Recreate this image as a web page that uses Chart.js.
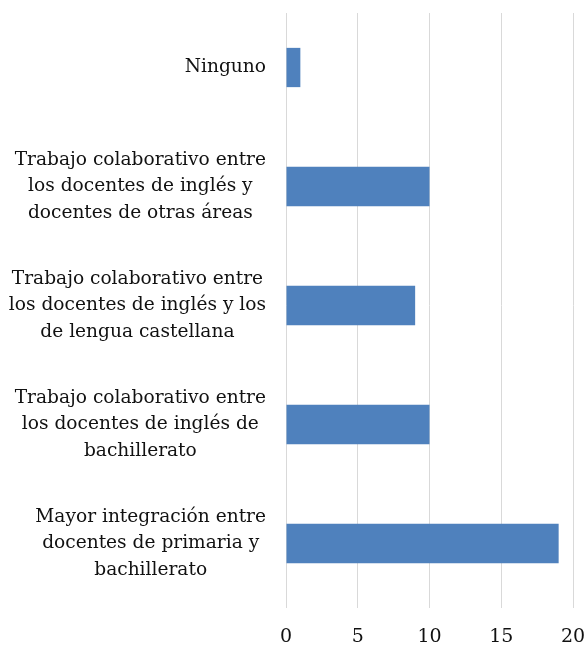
<!DOCTYPE html>
<html lang="es">
<head>
<meta charset="utf-8"/>
<title>Trabajo colaborativo</title>
<style>
  body { margin: 0; background: #fff; }
  #wrap { width: 587px; height: 647px; }
</style>
</head>
<body>
<div id="wrap"><canvas id="chart" width="587" height="647"></canvas></div>
<script src="https://cdn.jsdelivr.net/npm/chart.js"></script>
<script>
const categories = [
  ["Ninguno"],
  ["Trabajo colaborativo entre", "los docentes de inglés y", "docentes de otras áreas"],
  ["Trabajo colaborativo entre", "los docentes de inglés y los", "de lengua castellana"],
  ["Trabajo colaborativo entre", "los docentes de inglés de", "bachillerato"],
  ["Mayor integración entre", "docentes de primaria y", "bachillerato"]
];
const values = [1, 10, 9, 10, 19];
const xTicks = [0, 5, 10, 15, 20];

const FONT = "'DejaVu Serif', serif";
const GRID_TOP = 13;

// gridlines start a little below the top of the plot, like in the original
const gridTop = {
  id: 'gridTop',
  beforeDatasetsDraw(chart) {
    const a = chart.chartArea;
    const ctx = chart.ctx;
    ctx.save();
    ctx.fillStyle = '#fff';
    ctx.fillRect(a.left - 2, 0, a.right - a.left + 4, GRID_TOP);
    ctx.restore();
  }
};

// draw the category labels as centered blocks, right aligned to the axis
const centeredLabels = {
  id: 'centeredLabels',
  afterDraw(chart) {
    const ctx = chart.ctx;
    const y = chart.scales.y;
    ctx.save();
    ctx.font = "18.6px " + FONT;
    ctx.fillStyle = '#111';
    ctx.textAlign = 'center';
    ctx.textBaseline = 'middle';
    const right = y.right - 20;
    const lh = 26.5;
    categories.forEach((lines, i) => {
      const cy = y.getPixelForTick(i);
      const w = Math.max(...lines.map(l => ctx.measureText(l).width));
      const cx = right - w / 2;
      const top = cy - (lines.length - 1) * lh / 2;
      lines.forEach((l, k) => ctx.fillText(l, cx, top + k * lh));
    });
    ctx.restore();
  }
};

new Chart(document.getElementById('chart'), {
  type: 'bar',
  data: {
    labels: categories,
    datasets: [{
      data: values,
      backgroundColor: '#4f81bd',
      barPercentage: 0.33,
      categoryPercentage: 1
    }]
  },
  options: {
    indexAxis: 'y',
    responsive: false,
    animation: false,
    layout: { padding: { top: 8, right: 0, left: 0, bottom: 0 } },
    plugins: { legend: { display: false }, tooltip: { enabled: false } },
    scales: {
      x: {
        min: 0, max: 20,
        afterBuildTicks(s) { s.ticks = xTicks.map(v => ({ value: v })); },
        afterFit(s) { s.height = 44; s.paddingRight = 14; s.paddingLeft = 0; },
        grid: { color: '#d9d9d9', drawTicks: true, tickLength: 5 },
        border: { display: false },
        ticks: { color: '#111', font: { family: FONT, size: 19 }, padding: 18 }
      },
      y: {
        afterFit(s) { s.width = 286; },
        grid: { display: false },
        border: { display: false },
        ticks: { display: false }
      }
    }
  },
  plugins: [gridTop, centeredLabels]
});
</script>
</body>
</html>
